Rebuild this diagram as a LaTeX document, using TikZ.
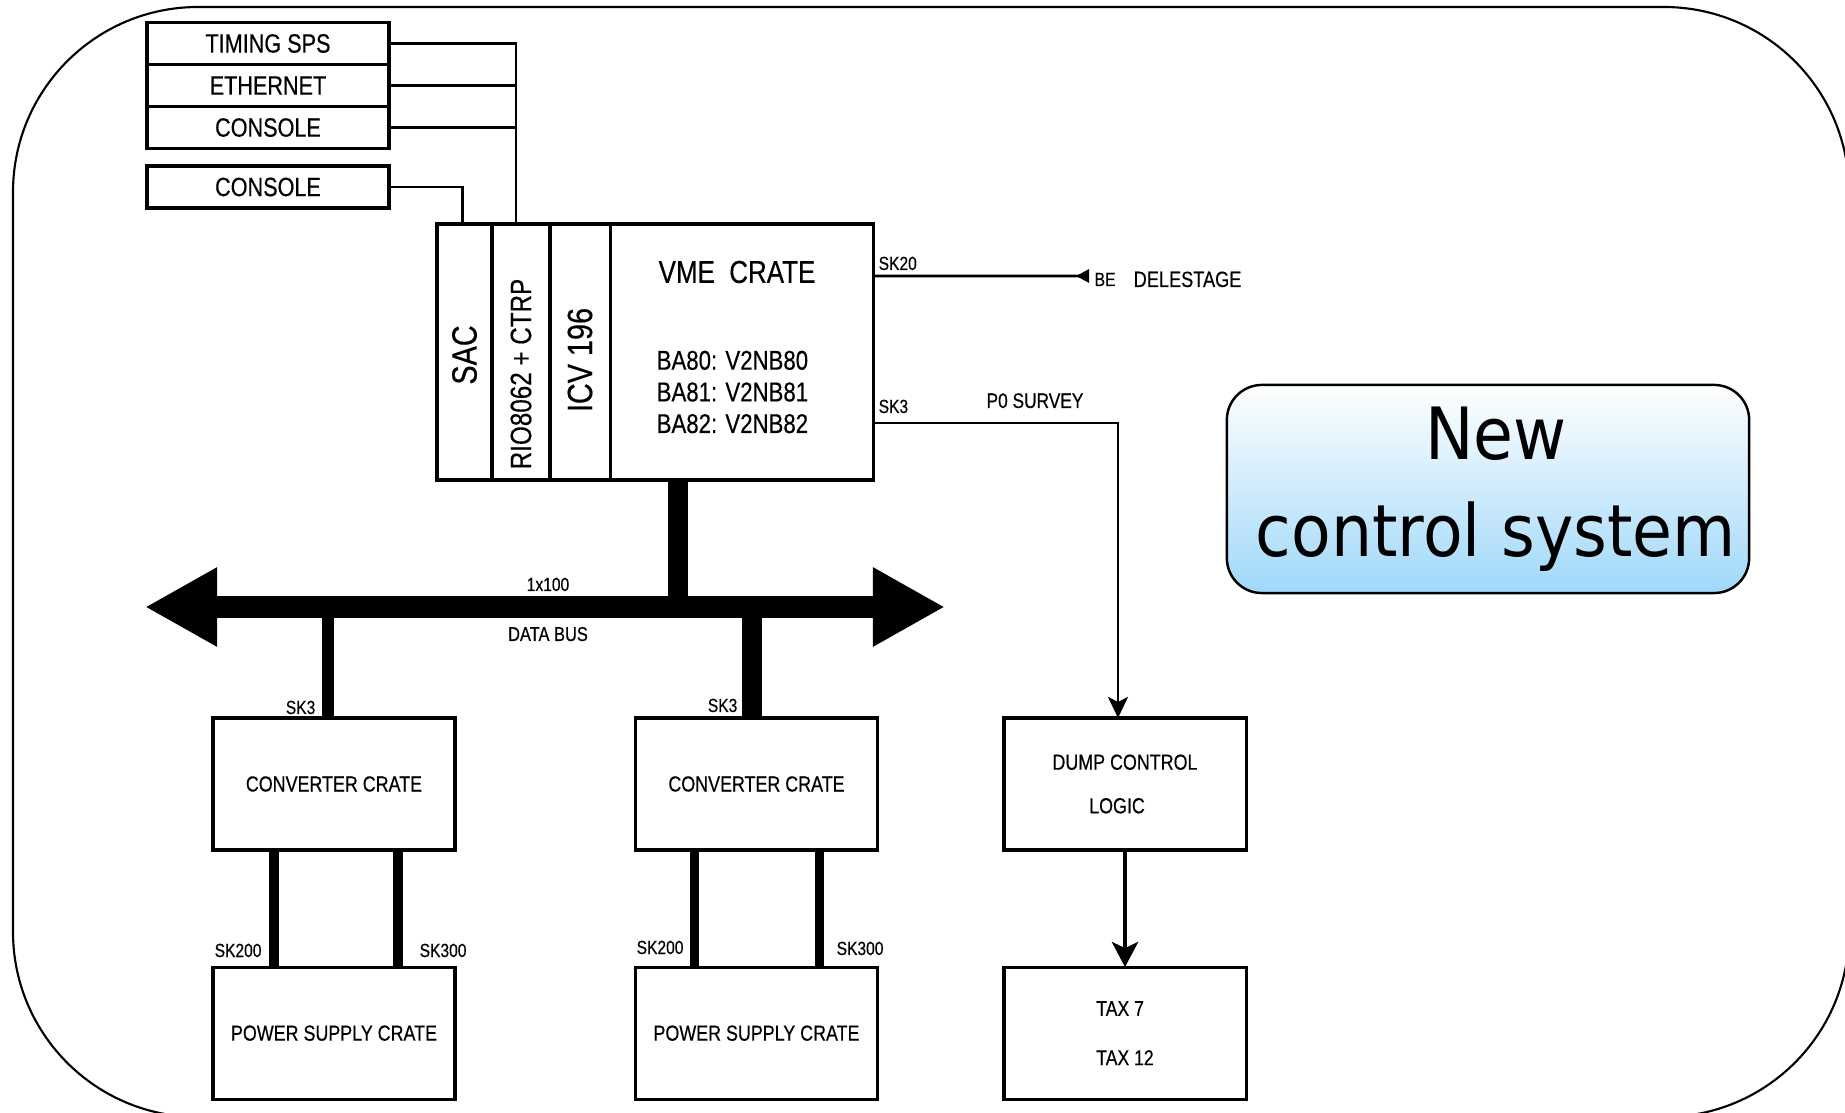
\documentclass[tikz,border=0pt]{standalone}
\usepackage{fontspec}
\setmainfont{Liberation Sans}[FakeStretch=0.82,FakeBold=0.4]
\newfontfamily\ncsfont{DejaVu Sans}[FakeStretch=0.9]
\usepackage{xcolor}
\usepackage{tikz}
\usetikzlibrary{arrows.meta,positioning}
\definecolor{ncsblue}{RGB}{160,216,250}
\newcommand{\fsz}[2]{\fontsize{#1}{#2}\selectfont}

\begin{document}
\begin{tikzpicture}[x=0.01cm, y=-0.01cm, box/.style={draw,line width=0.9pt,inner sep=0,outer sep=0,
  minimum width=2.42cm,minimum height=1.32cm,align=center,font=\fsz{6.2}{12.4}},
  topbox/.style={box,minimum height=0.42cm,font=\fsz{7.5}{9}},
  slot/.style={draw,line width=0.9pt,inner sep=0,outer sep=0,minimum height=2.56cm},
  lbl/.style={inner sep=0,font=\fsz{5.4}{6}}, conn/.style={line width=0.8pt},
  >={Stealth[inset=0.05cm]}]
\useasboundingbox (0,0) rectangle (1845,1113);
\draw[line width=0.6pt,rounded corners=1.85cm] (13,7) rectangle (1849,1117);

\node[topbox] (timing) at (268,43.5) {TIMING SPS};
\node[topbox,below=0cm of timing] (ethernet) {ETHERNET};
\node[topbox,below=0cm of ethernet] (console) {CONSOLE};
\node[topbox] (console2) at (268,187) {CONSOLE};

\node[slot,minimum width=0.55cm] (sac) at (464.5,352) {};
\node[slot,minimum width=0.58cm,right=0cm of sac] (rio) {};
\node[slot,minimum width=0.60cm,right=0cm of rio] (icv) {};
\node[slot,minimum width=2.63cm,right=0cm of icv] (vme) {};
\node[rotate=90,font=\fsz{10}{11}] (saclbl) at (464.5,355) {SAC};
\node[rotate=90,font=\fsz{8.4}{10}] (riolbl) at (521,374) {RIO8062 + CTRP};
\node[rotate=90,font=\fsz{10}{11}] (icvlbl) at (580,360) {ICV 196};
\node[font=\fsz{9}{11}] (vmettl) at (737,272) {VME~~CRATE};
\node[anchor=west,align=left,inner sep=0,font=\fsz{7.7}{9}] (vmeba) at (656,392) {BA80: V2NB80\\BA81: V2NB81\\BA82: V2NB82};

\coordinate (riotop) at ([xshift=-0.05cm]rio.north);
\coordinate (sactop) at ([xshift=-0.02cm]sac.north);
\draw[conn] (timing.east) -| (riotop);
\draw[conn] (ethernet.east) -- (ethernet.east -| riotop);
\draw[conn] (console.east) -- (console.east -| riotop);
\draw[conn] (console2.east) -| (sactop);

\coordinate (sk20pt) at ([yshift=0.76cm]vme.east);
\coordinate (sk3pt) at ([yshift=-0.71cm]vme.east);
\coordinate (delest) at (1089,276);
\node[lbl,anchor=base west] (sk20lbl) at (878,270) {SK20};
\node[lbl,anchor=base west] (sk3lbl) at (878,413) {SK3};
\node[lbl,anchor=base west] (belbl) at (1094,286) {BE};
\node[lbl,anchor=base west,font=\fsz{6.3}{7}] (dellbl) at (1133,287) {DELESTAGE};
\node[lbl,anchor=base,font=\fsz{6}{7}] (p0lbl) at (1035,408) {P0 SURVEY};
\draw[conn,-{Triangle[reversed,length=0.13cm,width=0.13cm]}] (sk20pt) -- (delest);

\node[box] (conv1) at (334,784) {CONVERTER CRATE};
\node[box] (conv2) at (756.5,784) {CONVERTER CRATE};
\node[box] (dump) at (1125,784) {DUMP CONTROL\\LOGIC\kern0.16cm};
\node[box,below=1.17cm of conv1] (psu1) {POWER SUPPLY CRATE};
\node[box,below=1.17cm of conv2] (psu2) {POWER SUPPLY CRATE};
\node[box,below=1.17cm of dump,align=left,font=\fsz{6.1}{14}] (tax) {TAX 7\\TAX 12};

\coordinate (dumptop) at ([xshift=-0.07cm]dump.north);
\draw[conn,->,>={Stealth[length=0.21cm,width=0.2cm,inset=0.05cm]}] (sk3pt) -| (dumptop);
\draw[line width=1.4pt,->,>={Stealth[length=0.25cm,width=0.26cm,inset=0.06cm]}] (dump) -- (tax);

\coordinate (busL) at (145,607); \coordinate (busR) at (945,607);
\coordinate (stub) at (678,607); \coordinate (drop1) at (328,607); \coordinate (drop2) at (752,607);
\draw[line width=6pt,{Triangle[length=0.72cm,width=0.74cm]}-{Triangle[length=0.72cm,width=0.74cm]}] (busL) -- (busR);
\draw[line width=5.7pt] (stub |- vme.south) -- (stub);
\draw[line width=3.5pt] (drop1) -- (drop1 |- conv1.north);
\draw[line width=5.7pt] (drop2) -- (drop2 |- conv2.north);
\node[lbl,anchor=base] (buswd) at (548,591) {1x100};
\node[lbl,anchor=base,font=\fsz{5.7}{7}] (buslbl) at (548,641) {DATA BUS};
\node[lbl,anchor=base east] (sk3a) at (316,714) {SK3};
\node[lbl,anchor=base east] (sk3b) at (738,712) {SK3};

\draw[line width=2.8pt] ([xshift=-0.60cm]conv1.south) -- ([xshift=-0.60cm]psu1.north);
\draw[line width=2.8pt] ([xshift=0.64cm]conv1.south) -- ([xshift=0.64cm]psu1.north);
\draw[line width=2.8pt] ([xshift=-0.62cm]conv2.south) -- ([xshift=-0.62cm]psu2.north);
\draw[line width=2.8pt] ([xshift=0.63cm]conv2.south) -- ([xshift=0.63cm]psu2.north);
\node[lbl,anchor=base west] (sk200a) at (214,957) {SK200};
\node[lbl,anchor=base west] (sk300a) at (419,957) {SK300};
\node[lbl,anchor=base west] (sk200b) at (636,954) {SK200};
\node[lbl,anchor=base west] (sk300b) at (836,955) {SK300};

\node[draw,line width=0.7pt,rounded corners=0.35cm,top color=white,bottom color=ncsblue,
  minimum width=5.22cm,minimum height=2.08cm,align=center,font=\ncsfont\fsz{20.5}{27.6}] (ncs) at (1488,489) {\kern0.16cm New\\\kern0.16cm control system};
\end{tikzpicture}
\end{document}
